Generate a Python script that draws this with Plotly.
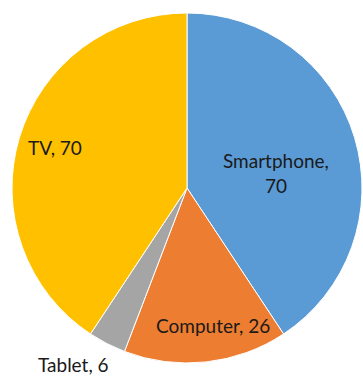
import math
import plotly.graph_objects as go

categories = ["Smartphone", "Computer", "Tablet", "TV"]
values = [70, 26, 6, 70]
colors = ["#5B9BD5", "#ED7D31", "#A5A5A5", "#FFC000"]
label_texts = ["Smartphone,<br>70", "Computer, 26", "Tablet, 6", "TV, 70"]
label_radius = [0.515, 0.80, 1.20, 0.79]
label_angle_shift = [7.0, -4.4, 5.6, 0.5]

W, H = 363, 381
cx, cy, R = 187, 188, 175

fig = go.Figure(go.Pie(
    labels=categories, values=values, sort=False, direction="clockwise",
    rotation=0, textinfo="none", hoverinfo="label+value",
    marker=dict(colors=colors, line=dict(color="white", width=1)),
    domain=dict(x=[(cx - R) / W, (cx + R) / W], y=[(H - cy - R) / H, (H - cy + R) / H]),
    showlegend=False,
))

total = sum(values)
cum = 0
for v, t, rf, sh in zip(values, label_texts, label_radius, label_angle_shift):
    mid = (cum + v / 2) / total * 2 * math.pi + math.radians(sh)
    cum += v
    px = cx + rf * R * math.sin(mid)
    py = cy - rf * R * math.cos(mid)
    fig.add_annotation(x=px / W, y=1 - py / H, xref="paper", yref="paper",
                       text=t, showarrow=False, xanchor="center", yanchor="middle",
                       font=dict(family="Lato", size=19, color="#1a1a1a"))

fig.update_layout(width=W, height=H, margin=dict(l=0, r=0, t=0, b=0),
                  paper_bgcolor="white", plot_bgcolor="white")
fig.write_html("out.html")
